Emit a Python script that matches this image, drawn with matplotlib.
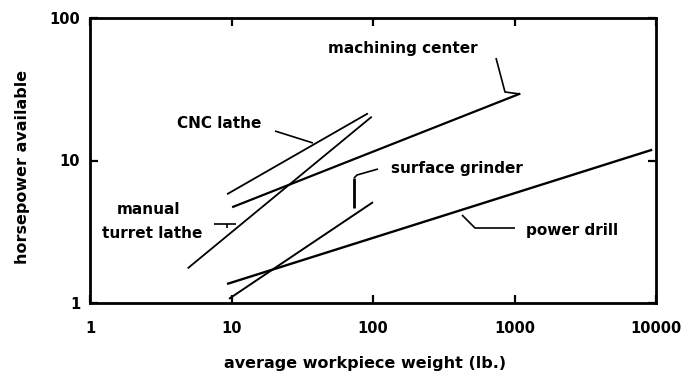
import matplotlib
matplotlib.use("Agg")
import matplotlib.pyplot as plt
from matplotlib.ticker import FixedLocator, FixedFormatter, NullLocator

# ---- data ----
x_ticks = [1, 10, 100, 1000, 10000]
x_tick_labels = ["1", "10", "100", "1000", "10000"]
y_ticks = [1, 10, 100]
y_tick_labels = ["1", "10", "100"]

cnc_lathe_x = [9.3, 92]
cnc_lathe_y = [5.8, 21.4]
manual_lathe_x = [4.9, 98]
manual_lathe_y = [1.75, 20.3]
machining_center_x = [10.1, 1100]
machining_center_y = [4.7, 29.5]
surface_grinder_x = [9.6, 100]
surface_grinder_y = [1.07, 5.1]
power_drill_x = [9.3, 9400]
power_drill_y = [1.36, 11.9]

W, H = 681, 371
fig = plt.figure(figsize=(W / 100, H / 100), dpi=100)
AX_L, AX_R, AX_T, AX_B = 90, 656, 18, 303
ax = fig.add_axes([AX_L / W, 1 - AX_B / H, (AX_R - AX_L) / W, (AX_B - AX_T) / H])
ax.set_xscale("log")
ax.set_yscale("log")
ax.set_xlim(1, 10000)
ax.set_ylim(1, 100)

lc = "black"
ax.plot(cnc_lathe_x, cnc_lathe_y, color=lc, lw=1.3, solid_capstyle="butt")
ax.plot(manual_lathe_x, manual_lathe_y, color=lc, lw=1.3, solid_capstyle="butt")
ax.plot(machining_center_x, machining_center_y, color=lc, lw=1.6, solid_capstyle="butt")
ax.plot(surface_grinder_x, surface_grinder_y, color=lc, lw=1.4, solid_capstyle="butt")
ax.plot(power_drill_x, power_drill_y, color=lc, lw=1.7, solid_capstyle="butt")

# ticks
ax.xaxis.set_major_locator(FixedLocator(x_ticks))
ax.xaxis.set_major_formatter(FixedFormatter(x_tick_labels))
ax.xaxis.set_minor_locator(NullLocator())
ax.yaxis.set_major_locator(FixedLocator(y_ticks))
ax.yaxis.set_major_formatter(FixedFormatter(y_tick_labels))
ax.yaxis.set_minor_locator(NullLocator())
ax.tick_params(which="major", direction="in", length=6, width=1.6,
               top=True, right=True, labelsize=10.5, colors="black")
ax.tick_params(axis="x", pad=13)
ax.tick_params(axis="y", pad=7)
for lab in ax.get_xticklabels() + ax.get_yticklabels():
    lab.set_fontweight("bold")
for sp in ax.spines.values():
    sp.set_linewidth(2.0)

ax.set_xlabel("average workpiece weight (lb.)", fontsize=11.5, fontweight="bold")
ax.xaxis.set_label_coords(0.486, -0.185)
ax.xaxis.label.set_va("top")
ax.set_ylabel("horsepower available", fontsize=11.5, fontweight="bold")
ax.yaxis.label.set_va("center")
ax.yaxis.set_label_coords(-0.12, 0.477)


def px(x, y):
    return ((x - AX_L) / (AX_R - AX_L), (AX_B - y) / (AX_B - AX_T))


def label(text, x, y):
    fx, fy = px(x, y)
    ax.text(fx, fy, text, transform=ax.transAxes, ha="center", va="center",
            fontsize=11, fontweight="bold")


def leader(points, lw=1.2):
    xs, ys = zip(*[px(a, b) for a, b in points])
    ax.plot(xs, ys, transform=ax.transAxes, color="black", lw=lw,
            solid_capstyle="butt", clip_on=False)


label("machining center", 403, 48)
leader([(496, 58), (505, 92), (520, 94)])
label("CNC lathe", 219, 123)
leader([(275, 131), (313, 143)])
label("manual", 149, 210)
label("turret lathe", 152, 233)
leader([(214, 224), (236, 224)])
leader([(227, 224), (227, 228)])
label("surface grinder", 457, 168)
leader([(378, 169), (357, 175), (354, 178)])
leader([(354, 178), (354, 208)], lw=2.0)
label("power drill", 572, 230)
leader([(462, 215), (475, 228), (515, 228)])

fig.savefig("out.png", dpi=100)
